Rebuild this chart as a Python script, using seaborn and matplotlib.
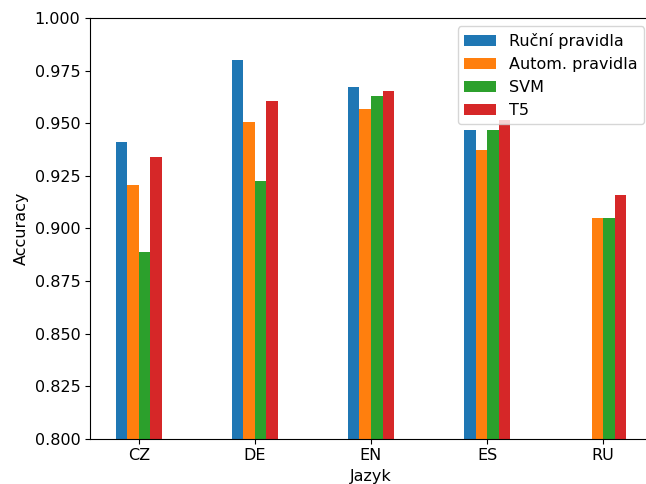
import matplotlib
matplotlib.use("Agg")
import matplotlib.pyplot as plt
import numpy as np
import pandas as pd
import seaborn as sns

# Accuracy per language and method (RU has no hand-written rules)
languages = ["CZ", "DE", "EN", "ES", "RU"]
methods = ["Ruční pravidla", "Autom. pravidla", "SVM", "T5"]
rucni = [0.9414, 0.9800, 0.9675, 0.9470, np.nan]
autom = [0.9208, 0.9505, 0.9570, 0.9375, 0.9050]
svm = [0.8886, 0.9225, 0.9632, 0.9470, 0.9050]
t5 = [0.9340, 0.9605, 0.9655, 0.9515, 0.9160]

df = pd.DataFrame({"Jazyk": languages, methods[0]: rucni, methods[1]: autom,
                   methods[2]: svm, methods[3]: t5})
long = df.melt(id_vars="Jazyk", var_name="Metoda", value_name="Accuracy")

plt.rcParams["font.size"] = 11.5
fig = plt.figure(figsize=(6.46, 4.84), dpi=100)
# the original axes run slightly past the right edge of the image
ax = fig.add_axes([0.1393, 0.094, 1.0093 - 0.1393, 0.9618 - 0.094])
sns.barplot(data=long, x="Jazyk", y="Accuracy", hue="Metoda", hue_order=methods,
            order=languages, palette=["#1f77b4", "#ff7f0e", "#2ca02c", "#d62728"],
            saturation=1, width=0.4, errorbar=None, ax=ax, linewidth=0)
ax.set_ylim(0.8, 1.0)
ax.set_xlim(-0.42, 4.42)
ax.set_yticks(np.arange(0.8, 1.0001, 0.025))
ax.set_yticklabels([f"{v:.3f}" for v in np.arange(0.8, 1.0001, 0.025)])
ax.set_xlabel("Jazyk")
ax.set_ylabel("Accuracy")
sns.move_legend(ax, "upper right", title=None)

fig.savefig("out.png", dpi=100)
